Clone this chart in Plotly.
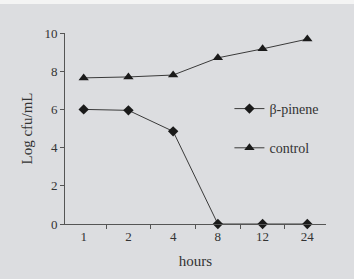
import plotly.graph_objects as go

hours = ["1", "2", "4", "8", "12", "24"]
beta_pinene = [6.0, 5.95, 4.85, 0.0, 0.0, 0.0]
control = [7.65, 7.7, 7.8, 8.7, 9.17, 9.68]

font = "Liberation Serif, Times New Roman, serif"
ink = "#333333"
axis_col = "#555555"
bg = "#dcdde0"

fig = go.Figure()
fig.add_trace(go.Scatter(
    x=hours, y=beta_pinene, name="β-pinene", mode="lines+markers",
    line=dict(color="#3a3a3a", width=1),
    marker=dict(symbol="diamond", size=8, color="#1a1a1a"),
    cliponaxis=False, legendgroup="a"))
fig.add_trace(go.Scatter(
    x=hours, y=control, name="control", mode="lines+markers",
    line=dict(color="#3a3a3a", width=1),
    marker=dict(symbol="triangle-up", size=9, color="#1a1a1a"),
    cliponaxis=False, legendgroup="b"))

fig.update_layout(
    width=354, height=279,
    margin=dict(l=65, r=28, t=33, b=55),
    paper_bgcolor=bg, plot_bgcolor=bg,
    font=dict(family=font, size=13, color=ink),
    showlegend=True,
    legend=dict(x=0.63, y=0.5, xanchor="left", yanchor="middle",
                bgcolor="rgba(0,0,0,0)", font=dict(size=14, color=ink),
                tracegroupgap=18, traceorder="grouped"),
    xaxis=dict(type="category", showline=True, linecolor=axis_col, linewidth=1,
               ticks="outside", tickson="boundaries", ticklen=4, tickcolor=axis_col,
               showgrid=False, zeroline=False,
               title=dict(text="hours", font=dict(size=15, color=ink), standoff=12),
               tickfont=dict(size=13, color=ink)),
    yaxis=dict(range=[0, 10], dtick=2, showline=True, linecolor=axis_col, linewidth=1,
               ticks="outside", ticklen=4, tickcolor=axis_col, showgrid=False,
               zeroline=False,
               title=dict(text="Log cfu/mL", font=dict(size=15, color=ink), standoff=8),
               tickfont=dict(size=13, color=ink)),
)
fig.add_shape(type="rect", xref="paper", yref="paper", x0=-0.3, x1=1.2, y0=1.152, y1=1.3,
              fillcolor="#f4f4f4", line=dict(width=0), layer="above")

fig.write_html("out.html")
